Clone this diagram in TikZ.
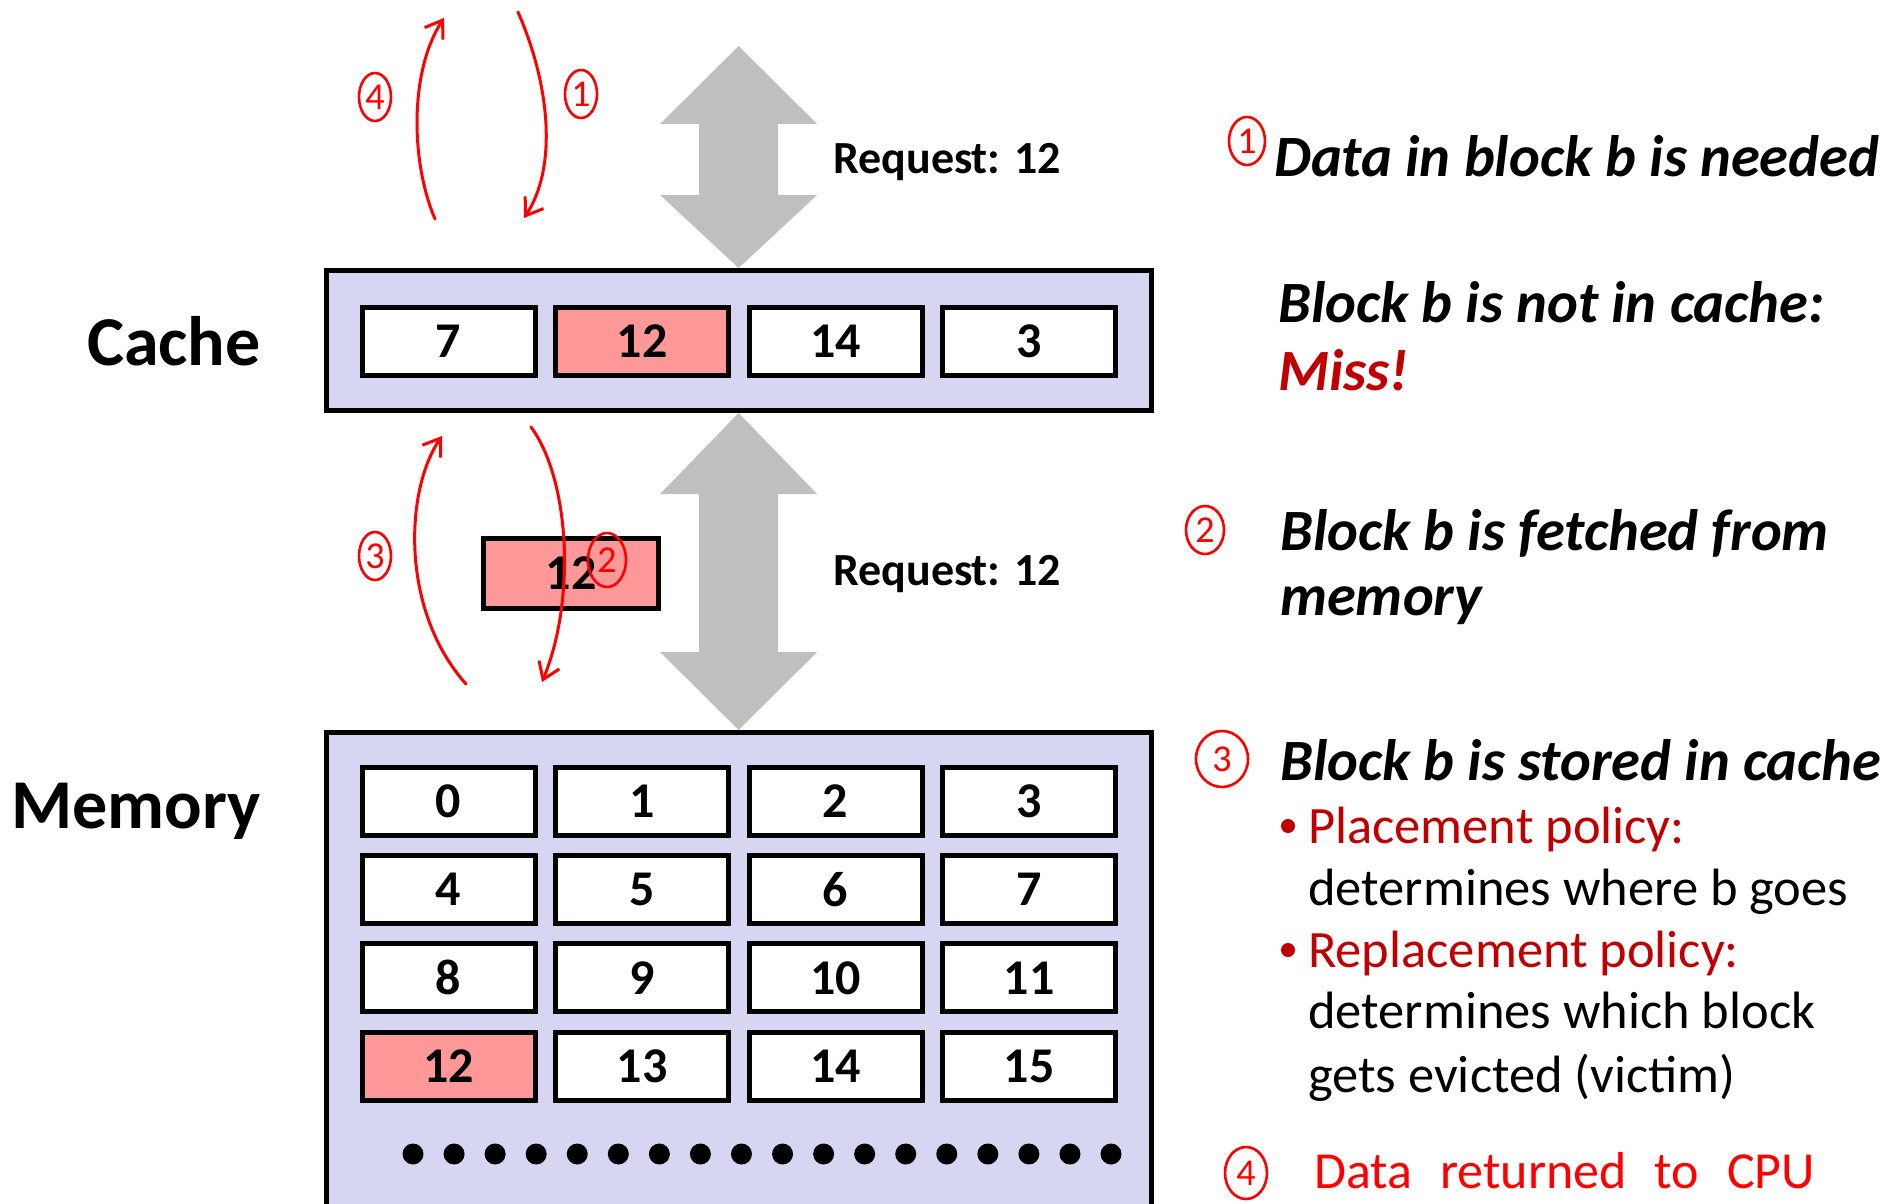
\documentclass[tikz,border=0pt]{standalone}
\usepackage{fontspec}
\setmainfont{Carlito}
\usetikzlibrary{arrows.meta,shapes.geometric}
\definecolor{lav}{RGB}{214,214,243}
\definecolor{pinkc}{RGB}{255,153,153}
\definecolor{grayarr}{RGB}{191,191,191}
\definecolor{darkred}{RGB}{192,0,0}
\definecolor{handred}{RGB}{255,0,0}
\newcommand{\grayarrowshape}[5]{%
  \fill[grayarr] (#1,#2) -- (#1+78.5,#3) -- (#1+39.5,#3) -- (#1+39.5,#4) -- (#1+78.5,#4)
    -- (#1,#5) -- (#1-78.5,#4) -- (#1-39.5,#4) -- (#1-39.5,#3) -- (#1-78.5,#3) -- cycle;}
\begin{document}
\begin{tikzpicture}[x=1pt,y=-1pt,
  outerbox/.style={draw=black, line width=5pt, fill=lav, inner sep=0pt},
  cellbox/.style={draw=black, line width=5pt, fill=white, minimum width=173pt, minimum height=68pt,
     inner sep=0pt, font=\fontsize{50}{50}\selectfont\bfseries},
  biglabel/.style={anchor=base east, inner sep=0pt, font=\fontsize{70}{70}\selectfont\bfseries},
  reqlabel/.style={anchor=base west, inner sep=0pt, font=\fontsize{46}{46}\selectfont\bfseries},
  stmt/.style={anchor=base west, inner sep=0pt, font=\fontsize{58.5}{58.5}\selectfont\bfseries\itshape},
  bodytxt/.style={anchor=base west, inner sep=0pt, font=\fontsize{52.5}{52.5}\selectfont},
  circnum/.style={ellipse, draw=handred, line width=2.6pt, text=handred, inner sep=0pt,
     minimum width=32pt, minimum height=48pt, font=\fontsize{38}{38}\selectfont},
  handarrow/.style={draw=handred, line width=3pt, line cap=round,
     -{Straight Barb[length=16pt,width=22pt,line width=3pt]}}
]
\useasboundingbox (0,0) rectangle (1885,1204);

% gray request arrows
\grayarrowshape{738.6}{46}{124}{195}{268}
\grayarrowshape{738.6}{413}{494}{652}{730}

% cache
\node[outerbox, minimum width=825pt, minimum height=140pt] (cache) at (739,340.5) {};
\foreach \v [count=\i from 0] in {7,12,14,3} {
  \def\fc{white}\ifnum\v=12 \def\fc{pinkc}\fi
  \node[cellbox, fill=\fc] (c\i) at (448.5+193.5*\i,341) {\v};
}

% memory
\node[outerbox, minimum width=825pt, minimum height=490pt] (mem) at (739,977.5) {};
\foreach \r in {0,...,3} {
  \foreach \c in {0,...,3} {
    \pgfmathtruncatemacro\n{4*\r+\c}
    \def\fc{white}\ifnum\n=12 \def\fc{pinkc}\fi
    \node[cellbox, fill=\fc] (m\n) at (448.5+193.5*\c, 801.5+88.2*\r) {\n};
  }
}
\foreach \k in {0,...,17} \fill (413+41.06*\k,1154) circle (10.5);

% labels
\node[biglabel] (cachelbl) at (261,365) {Cache};
\node[biglabel] (memlbl) at (261,828) {Memory};
\node[reqlabel] (req1) at (833,173) {Request: 12};
\node[reqlabel] (req2) at (833,585) {Request: 12};

% fetched block
\node[cellbox, fill=pinkc, minimum width=175pt, minimum height=70pt] (fetched) at (571,573.5) {12};

% hand-drawn arrows (upper)
\coordinate (a4s) at (435,219); \coordinate (a4e) at (444,18);
\coordinate (a1s) at (518,12);  \coordinate (a1e) at (524,218);
\draw[handarrow] (a4s) .. controls (410,160) and (410,70) .. (a4e);
\draw[handarrow] (a1s) .. controls (552,90) and (556,170) .. (a1e);
\node[circnum] (n4a) at (375,97) {4};
\node[circnum] (n1a) at (581,94) {1};

% hand-drawn arrows (middle)
\coordinate (a3s) at (466,684); \coordinate (a3e) at (442,436);
\coordinate (a2s) at (531,427); \coordinate (a2e) at (542,682);
\draw[handarrow] (a3s) .. controls (400,610) and (405,490) .. (a3e);
\draw[handarrow] (a2s) .. controls (570,480) and (576,600) .. (a2e);
\node[circnum] (n3a) at (375,556) {3};
\node[circnum, minimum width=38pt, minimum height=54pt] (n2a) at (607,560) {2};

% right-hand text
\node[circnum, minimum width=36pt, minimum height=48pt] (n1b) at (1247,141) {1};
\node[stmt] (t1) at (1274,176) {Data in block b is needed};
\node[stmt] (t2) at (1278,322) {Block b is not in cache:};
\node[stmt, text=darkred] (t3) at (1278,390) {Miss!};
\node[circnum, minimum width=38pt, minimum height=48pt] (n2b) at (1205,530) {2};
\node[stmt] (t4) at (1280,550) {Block b is fetched from};
\node[stmt] (t5) at (1280,615) {memory};
\node[circnum, minimum width=52pt, minimum height=56pt] (n3b) at (1222,759) {3};
\node[stmt] (t6) at (1280,780) {Block b is stored in cache};
\fill[darkred] (1288,826) circle (7);
\node[bodytxt, text=darkred] (p1) at (1308,843) {Placement policy:};
\node[bodytxt] (p2) at (1308,905) {determines where b goes};
\fill[darkred] (1288,950) circle (7);
\node[bodytxt, text=darkred] (p3) at (1308,967) {Replacement policy:};
\node[bodytxt] (p4) at (1308,1028) {determines which block};
\node[bodytxt] (p5) at (1308,1092) {gets evicted (victim)};
\node[circnum, minimum width=42pt, minimum height=52pt] (n4b) at (1246,1173) {4};
\node[anchor=base west, inner sep=0pt, text=handred, font=\fontsize{52}{52}\selectfont]
  (t7) at (1314,1188) {\spaceskip=28pt\relax Data returned to CPU};
\end{tikzpicture}
\end{document}
